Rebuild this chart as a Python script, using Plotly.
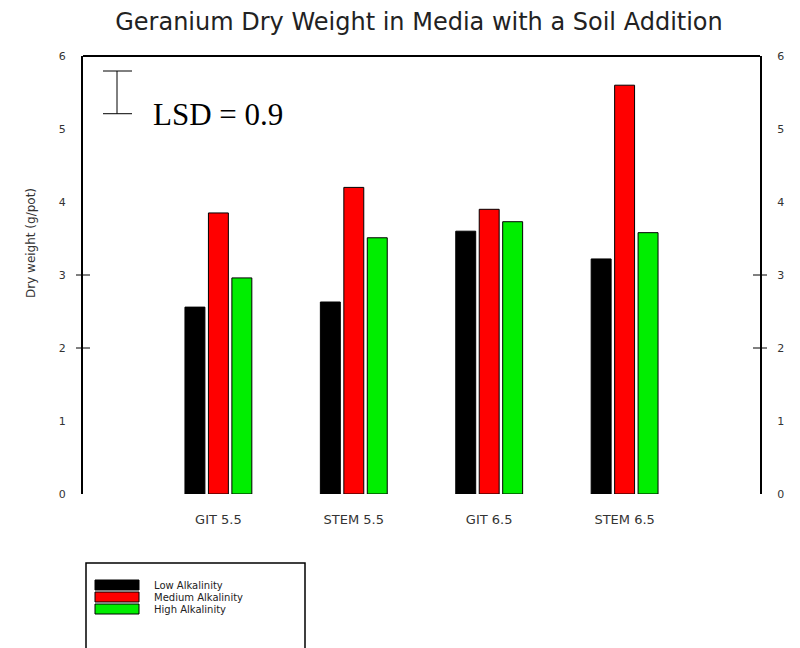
import plotly.graph_objects as go

categories = ["GIT 5.5", "STEM 5.5", "GIT 6.5", "STEM 6.5"]
series_names = ["Low Alkalinity", "Medium Alkalinity", "High Alkalinity"]
low_alk = [2.56, 2.63, 3.60, 3.22]
med_alk = [3.85, 4.20, 3.90, 5.60]
high_alk = [2.96, 3.51, 3.73, 3.58]
colors = ["#000000", "#ff0000", "#00ee00"]
y_ticks = [0, 1, 2, 3, 4, 5, 6]
lsd_value = 0.9

# page offset (body margin) and target plot area in window pixels
OFF = 8
L, R, T, B = 83, 760, 56, 494
W, H = 800 - OFF, 648 - OFF

SANS = "DejaVu Sans, Verdana, sans-serif"


def px(x):
    return (x - L) / (R - L)


def py(y):
    return (B - y) / (B - T)


fig = go.Figure()
for name, vals, col in zip(series_names, [low_alk, med_alk, high_alk], colors):
    fig.add_trace(go.Bar(
        x=list(range(len(categories))), y=vals, name=name,
        marker=dict(color=col, line=dict(color="#000000", width=1)),
        showlegend=False,
    ))

# invisible trace for right axis
fig.add_trace(go.Scatter(x=[0], y=[0], yaxis="y2", mode="markers",
                         marker=dict(opacity=0), showlegend=False, hoverinfo="skip"))

shapes = []
# top border
shapes.append(dict(type="line", xref="paper", yref="paper", x0=0, x1=1, y0=1, y1=1,
                   line=dict(color="#000", width=2)))
# crossing ticks at 2 and 3 on both axes
for v in [2, 3]:
    for xp in [0, 1]:
        shapes.append(dict(type="line", xref="paper", yref="y", x0=xp - 7 / (R - L), x1=xp + 7 / (R - L),
                           y0=v, y1=v, line=dict(color="#000", width=1)))
# LSD bar
lsd_top = py(71)
lsd_bot = lsd_top - lsd_value * 0.65 / 6
shapes.append(dict(type="line", xref="paper", yref="paper", x0=px(117), x1=px(117), y0=lsd_bot, y1=lsd_top,
                   line=dict(color="#000", width=1)))
for yy in [lsd_top, lsd_bot]:
    shapes.append(dict(type="line", xref="paper", yref="paper", x0=px(103), x1=px(132), y0=yy, y1=yy,
                       line=dict(color="#000", width=1)))

annotations = [dict(xref="paper", yref="paper", x=px(151), y=py(114),
                    text="LSD = 0.9", showarrow=False, xanchor="left", yanchor="middle",
                    font=dict(family="Liberation Serif, Times New Roman, serif", size=31, color="#000")),
               dict(xref="paper", yref="paper", x=px(31), y=py(243), text="Dry weight (g/pot)",
                    textangle=-90, showarrow=False, xanchor="center", yanchor="middle",
                    font=dict(family=SANS, size=12, color="#333"))]

# custom legend
shapes.append(dict(type="rect", xref="paper", yref="paper", x0=px(86), x1=px(305), y0=py(563), y1=py(660),
                   line=dict(color="#000", width=1.5), fillcolor="rgba(0,0,0,0)"))
for i, (name, col) in enumerate(zip(series_names, colors)):
    yc = 585 + i * 12
    shapes.append(dict(type="rect", xref="paper", yref="paper", x0=px(95), x1=px(139),
                       y0=py(yc - 5), y1=py(yc + 5), line=dict(color="#000", width=1), fillcolor=col))
    annotations.append(dict(xref="paper", yref="paper", x=px(152), y=py(yc), text=name,
                            showarrow=False, xanchor="left", yanchor="middle", height=12,
                            font=dict(family=SANS, size=10, color="#222")))

fig.update_layout(
    width=W, height=H,
    margin=dict(l=L - OFF, r=W - (R - OFF), t=T - OFF, b=H - (B - OFF)),
    paper_bgcolor="white", plot_bgcolor="white",
    barmode="group", bargap=0.48, bargroupgap=0.15,
    title=dict(text="Geranium Dry Weight in Media with a Soil Addition", x=(419 - OFF) / W, xanchor="center",
               y=1 - (22 - OFF) / H, yanchor="middle",
               font=dict(family=SANS, size=24, color="#222")),
    xaxis=dict(range=[-1, 4], tickvals=list(range(len(categories))), ticktext=categories,
               showline=False, showgrid=False, zeroline=False, ticks="", ticklabelstandoff=16,
               tickfont=dict(family=SANS, size=13, color="#333")),
    yaxis=dict(range=[0, 6], tickvals=y_ticks, showline=True, linecolor="#000", linewidth=2,
               showgrid=False, zeroline=False, ticks="", ticklabelstandoff=13,
               tickfont=dict(family=SANS, size=11, color="#333")),
    yaxis2=dict(range=[0, 6], tickvals=y_ticks, overlaying="y", side="right", showline=True,
                linecolor="#000", linewidth=2, showgrid=False, zeroline=False, ticks="", ticklabelstandoff=13,
                tickfont=dict(family=SANS, size=11, color="#333")),
    shapes=shapes, annotations=annotations,
)

fig.write_html("out.html")
